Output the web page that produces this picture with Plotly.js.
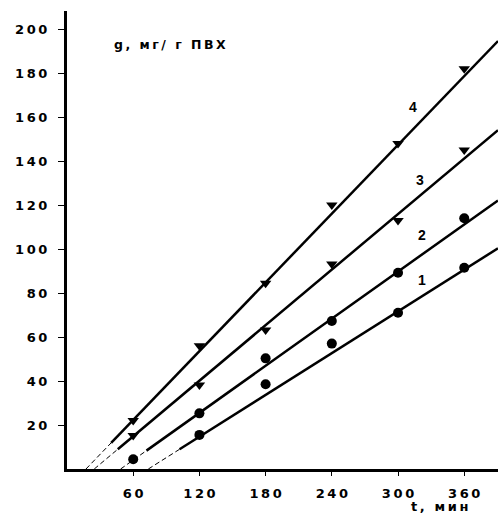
<!DOCTYPE html>
<html>
<head>
<meta charset="utf-8">
<script src="https://cdn.plot.ly/plotly-3.0.1.min.js"></script>
<style>html,body{margin:0;padding:0;background:#fff;}#chart{width:498px;height:513px;}</style>
</head>
<body>
<div id="chart"></div>
<script>
// time, min
const times = [60, 120, 180, 240, 300, 360];
// g, mg/g PVC for curves 1..4
const curve1 = [null, 15.5, 38.5, 57, 71, 91.5];
const curve2 = [4.4, 25.3, 50.3, 67.3, 89.2, 114];
const curve3 = [15.2, 38.2, 63.2, 93.2, 113, 145];
const curve4 = [22, 56, 84.4, 120, 148, 182];
const curveNames = ['1', '2', '3', '4'];
// fitted straight lines: x-intercept (min), slope, start of solid part
const fitX0 = [73.7, 48.6, 24.7, 17.2];
const fitSlope = [0.3166, 0.357, 0.421, 0.521];
const fitSolidFrom = [102, 72, 46, 40];
const xTicks = [60, 120, 180, 240, 300, 360];
const yTicks = [20, 40, 60, 80, 100, 120, 140, 160, 180, 200];

const X_MAX = 390.6, Y_MAX = 208.2;
const spaced = s => s.split('').join('\u2009');
const series = [curve1, curve2, curve3, curve4];
const symbols = ['circle', 'circle', 'triangle-down', 'triangle-down'];

const traces = [];
series.forEach((vals, i) => {
  const f = x => fitSlope[i] * (x - fitX0[i]);
  traces.push({x: [fitX0[i], fitSolidFrom[i]], y: [0, f(fitSolidFrom[i])], mode: 'lines',
    line: {color: '#000', width: 1, dash: '5px,3px'}, hoverinfo: 'skip', showlegend: false});
  traces.push({x: [fitSolidFrom[i], X_MAX], y: [f(fitSolidFrom[i]), f(X_MAX)], mode: 'lines',
    line: {color: '#000', width: 2.5}, hoverinfo: 'skip', showlegend: false});
  traces.push({x: times, y: vals, mode: 'markers', name: curveNames[i], showlegend: false,
    marker: {color: '#000', size: 10, symbol: symbols[i]}});
});

const tickFont = {family: 'DejaVu Sans', size: 13, color: '#000', weight: 'bold'};
const labelFont = {family: 'Liberation Sans, Arial', size: 14, color: '#000', weight: 'bold'};
const labelPos = [[321.4, 85.9], [321.4, 106.4], [319.9, 131.4], [313.6, 164.7]];

const layout = {
  width: 498, height: 513,
  margin: {l: 67, r: 0, t: 11, b: 44, pad: 0},
  paper_bgcolor: '#fff', plot_bgcolor: '#fff',
  showlegend: false,
  xaxis: {range: [0, X_MAX], showgrid: false, zeroline: false, showline: true, linecolor: '#000', linewidth: 3,
    ticks: 'outside', ticklen: 4, tickwidth: 1, tickcolor: '#000',
    tickvals: xTicks, ticktext: xTicks.map(v => spaced(String(v))), tickfont: tickFont, ticklabelstandoff: 6},
  yaxis: {range: [0, Y_MAX], showgrid: false, zeroline: false, showline: true, linecolor: '#000', linewidth: 3,
    ticks: 'outside', ticklen: 6, tickwidth: 1, tickcolor: '#000',
    tickvals: yTicks, ticktext: yTicks.map(v => spaced(String(v))), tickfont: tickFont, ticklabelstandoff: 8},
  annotations: [
    {xref: 'paper', yref: 'paper', x: 0.24, y: 0.926, xanchor: 'center', yanchor: 'middle', showarrow: false,
      text: spaced('g, мг/ г ПВХ'), font: {family: 'DejaVu Sans', size: 12.5, color: '#000', weight: 'bold'}},
    {xref: 'paper', yref: 'paper', x: 0.865, y: -0.082, xanchor: 'center', yanchor: 'middle', showarrow: false,
      text: spaced('t, мин'), font: {family: 'DejaVu Sans', size: 13, color: '#000', weight: 'bold'}}
  ].concat(curveNames.map((n, i) => ({xref: 'x', yref: 'y', x: labelPos[i][0], y: labelPos[i][1],
      xanchor: 'center', yanchor: 'middle', showarrow: false, text: n, font: labelFont})))
};

Plotly.newPlot('chart', traces, layout, {displayModeBar: false, staticPlot: true});
</script>
</body>
</html>
